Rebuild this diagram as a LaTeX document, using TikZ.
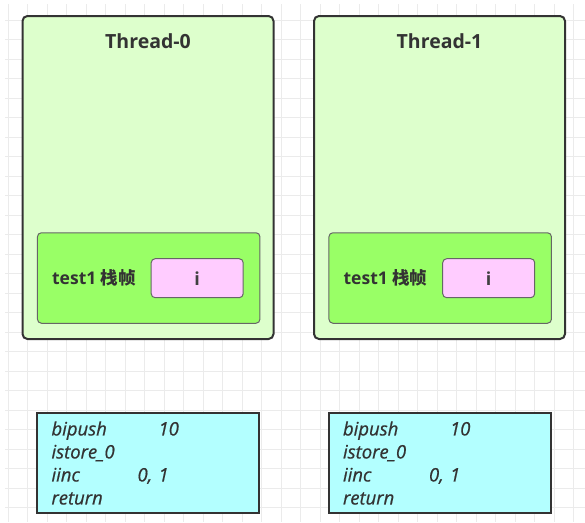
\documentclass[tikz,border=0pt]{standalone}
\usepackage{fontspec}
\setmainfont{Open Sans}
\newfontfamily\cjk{Noto Sans CJK SC}
\definecolor{threadfill}{HTML}{DDFFCC}
\definecolor{framefill}{HTML}{99FF66}
\definecolor{slotfill}{HTML}{FFCCFF}
\definecolor{codefill}{HTML}{B3FFFF}
\definecolor{inkdark}{HTML}{333333}
\definecolor{gridgray}{HTML}{EBEBEB}
\tikzset{
  gridline/.style={gridgray, line width=0.8pt},
  threadbox/.style={draw=inkdark, line width=2pt, fill=threadfill, rounded corners=5pt,
    minimum width=251pt, minimum height=323pt},
  threadtitle/.style={text=inkdark, font=\fontsize{19.5}{22}\selectfont\bfseries},
  framebox/.style={draw=black!60, line width=1pt, fill=framefill, rounded corners=4pt,
    minimum width=222.5pt, minimum height=90.5pt},
  framelabel/.style={text=inkdark, font=\fontsize{17.5}{20}\selectfont\bfseries},
  slotbox/.style={draw=black!60, line width=1pt, fill=slotfill, rounded corners=4pt,
    minimum width=92pt, minimum height=39pt, text=black!75,
    font=\fontsize{18}{20}\selectfont\bfseries},
  codebox/.style={draw=inkdark, line width=2pt, fill=codefill, text=inkdark,
    text width=193pt, inner xsep=14.5pt, minimum height=99.5pt, align=left,
    font=\fontsize{18.5}{23}\selectfont\itshape\addfontfeatures{FakeBold=0.6}}
}
\begin{document}
\begin{tikzpicture}[x=1pt,y=-1pt]
\useasboundingbox (0,0) rectangle (585,522);
\fill[white] (0,0) rectangle (585,522);
% background grid
\foreach \k in {0,...,29} \draw[gridline] (8.2+19.5*\k,4) -- (8.2+19.5*\k,522);
\foreach \k in {1,...,26} \draw[gridline] (5,0.5+19.5*\k) -- (585,0.5+19.5*\k);
\begin{scope}
\node[threadbox] (t0) at (148,177.5) {};
\node[threadtitle] (t0 title) at (148,41) {Thread-0};
\node[framebox] (f0) at (148.7,278) {};
\node[framelabel] (f0 label) at (94,278) {test1 {\cjk 栈帧}};
\node[slotbox] (i0) at (197.2,278.2) {i};
\node[codebox] (c0) at (148,463) {\makebox[107pt][l]{bipush}10\\istore\_0\\\makebox[86pt][l]{iinc}0, 1\\return};
\end{scope}
\begin{scope}[xshift=291.5pt]
\node[threadbox] (t1) at (148,177.5) {};
\node[threadtitle] (t1 title) at (148,41) {Thread-1};
\node[framebox] (f1) at (148.7,278) {};
\node[framelabel] (f1 label) at (94,278) {test1 {\cjk 栈帧}};
\node[slotbox] (i1) at (197.2,278.2) {i};
\node[codebox] (c1) at (148,463) {\makebox[107pt][l]{bipush}10\\istore\_0\\\makebox[86pt][l]{iinc}0, 1\\return};
\end{scope}
\end{tikzpicture}
\end{document}
